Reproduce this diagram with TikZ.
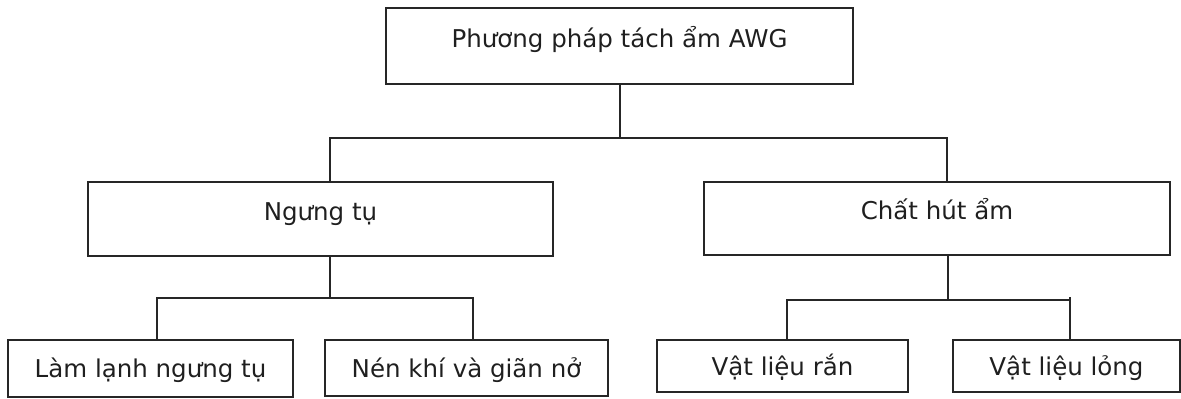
\documentclass[tikz,border=0pt]{standalone}
\usepackage{fontspec}
\setmainfont{DejaVu Sans}
\begin{document}
\begin{tikzpicture}[x=1pt,y=-1pt,
  box/.style={draw=black!85,line width=2pt,inner sep=0pt,text=black!88,
    font=\fontsize{24.5}{28}\selectfont},
  upper/.style={box,text height=10pt,text depth=8pt},
  lower/.style={box,text height=19pt,text depth=1pt},
  link/.style={draw=black!85,line width=2pt}]
\useasboundingbox (0,0) rectangle (1181,399);
\node[upper,minimum width=467pt,minimum height=76pt] (top) at (619.5,46) {Phương pháp tách ẩm AWG};
\node[upper,minimum width=465pt,minimum height=74pt] (ng) at (320.5,219) {Ngưng tụ};
\node[upper,minimum width=466pt,minimum height=73pt] (cha) at (937,218.5) {Chất hút ẩm};
\node[lower,minimum width=285pt,minimum height=57pt] (lam) at (150.5,368.5) {Làm lạnh ngưng tụ};
\node[lower,minimum width=283pt,minimum height=56pt] (nen) at (466.5,368) {Nén khí và giãn nở};
\node[lower,minimum width=251pt,minimum height=52pt] (ran) at (782.5,366) {Vật liệu rắn};
\node[lower,minimum width=227pt,minimum height=52pt] (long) at (1066.5,366) {Vật liệu lỏng};
\coordinate (b1l) at (330,138);
\coordinate (b1r) at (947,138);
\coordinate (b2) at (330,298);
\coordinate (b2l) at (157,298);
\coordinate (b2r) at (473,298);
\coordinate (b3) at (948,300);
\coordinate (b3l) at (787,300);
\coordinate (b3r) at (1070,300);
\coordinate (b3t) at (1070,297);
\draw[link] (top.south) -- (top.south |- b1l);
\draw[link] (ng.north -| b1l) -- (b1l) -- (b1r) -- (cha.north -| b1r);
\draw[link] (ng.south -| b2) -- (b2);
\draw[link] (lam.north -| b2l) -- (b2l) -- (b2r) -- (nen.north -| b2r);
\draw[link] (cha.south -| b3) -- (b3);
\draw[link] (ran.north -| b3l) -- (b3l) -- (b3r);
\draw[link] (b3t) -- (long.north -| b3t);
\end{tikzpicture}
\end{document}
